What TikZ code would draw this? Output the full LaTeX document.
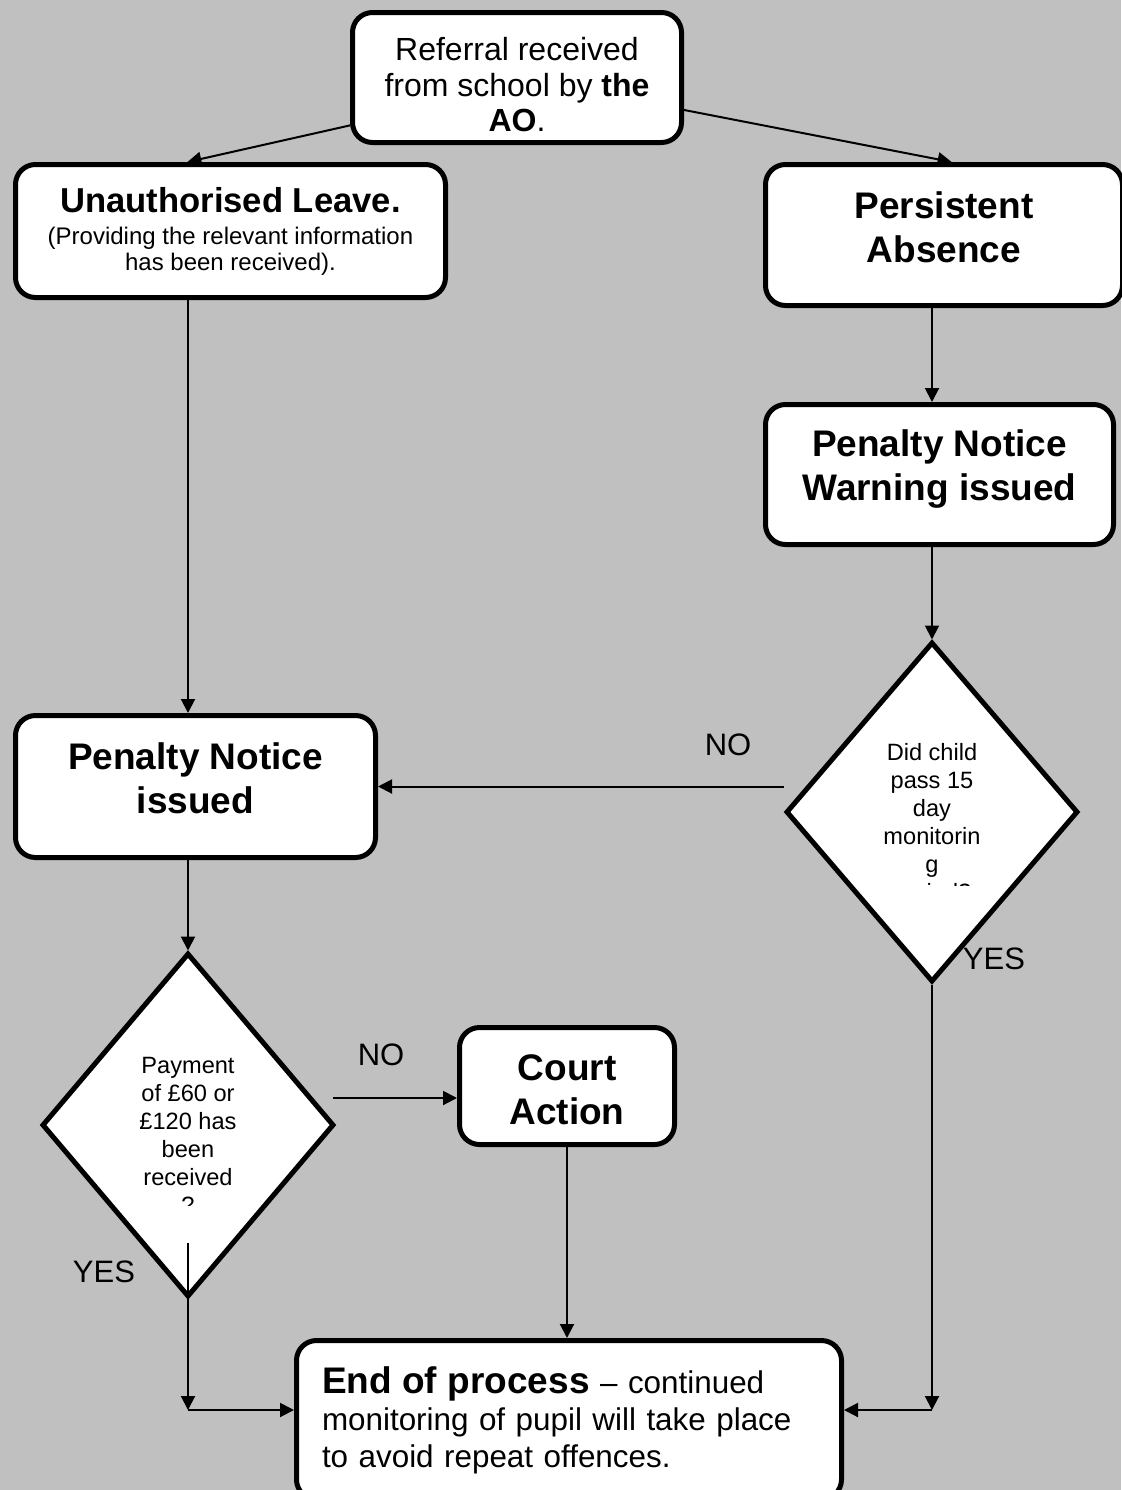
\documentclass[tikz,border=0pt]{standalone}
\usepackage{fontspec}
\setmainfont{Liberation Sans}
\usetikzlibrary{arrows.meta,shapes.geometric}
\definecolor{bg}{RGB}{192,192,192}

\begin{document}
\begin{tikzpicture}[x=0.5pt,y=-0.5pt,
	>={Triangle[length=7pt,width=7pt]},
	box/.style={draw, line width=2.5pt, rounded corners=10pt, fill=white, align=center, inner sep=0pt},
	head/.style={font=\fontsize{18.5}{22}\selectfont\bfseries},
	choice/.style={diamond, draw, line width=2.5pt, fill=white, inner sep=0pt, minimum width=146pt},
	ask/.style={align=center, font=\fontsize{11.8}{14}\selectfont},
	link/.style={->, line width=1pt},
	answer/.style={font=\fontsize{15.5}{18}\selectfont}]
	\useasboundingbox (0,0) rectangle (1121,1490);
	\fill[bg] (0,0) rectangle (1121,1490);

	\node[box, minimum width=164.5pt, minimum height=65pt, font=\fontsize{16}{17.75}\selectfont] (1) at (517,77.5) {\rule{0pt}{18.7pt}Referral received\\from school by \textbf{the}\\\textbf{AO}.};
	\node[box, minimum width=215pt, minimum height=66.5pt, font=\fontsize{12}{13}\selectfont] (2) at (230.5,231) {{\fontsize{17.3}{20}\selectfont\bfseries Unauthorised Leave.}\\[3pt](Providing the relevant information\\has been received).};
	\node[box, head, minimum width=178.5pt, minimum height=70.5pt] (3) at (944,235) {Persistent\\Absence\rule[-8pt]{0pt}{8pt}};
	\node[box, head, minimum width=174pt, minimum height=70pt] (4) at (939.5,474.5) {Penalty Notice\\Warning issued\rule[-9.4pt]{0pt}{9.4pt}};
	\node[choice, minimum height=170pt] (5) at (932,812) {};
	\node[box, head, minimum width=180pt, minimum height=71pt] (6) at (195.5,786.5) {Penalty Notice\\issued\rule[-8pt]{0pt}{8pt}};
	\node[choice, minimum height=172pt] (7) at (188,1125) {};
	\node[box, head, minimum width=107.5pt, minimum height=58.5pt] (8) at (567,1086) {\rule{0pt}{16.5pt}Court\\Action};
	\node[box, minimum width=272.5pt, minimum height=79.5pt, text width=247pt, align=left, font=\fontsize{15.7}{18.5}\selectfont] (9) at (569,1420) {{\fontsize{18.5}{18.5}\selectfont\bfseries End of process} – continued\\monitoring of pupil will take place\\to avoid repeat offences.};

	\begin{scope}
		\clip (820,700) rectangle (1044,885);
		\node[ask] (5t) at (932,824) {Did child\\pass 15\\day\\monitorin\\g\\period?};
	\end{scope}
	\begin{scope}
		\clip (80,1030) rectangle (296,1205);
		\node[ask] (7t) at (188,1135) {Payment\\of £60 or\\£120 has\\been\\received\\?};
	\end{scope}

	\coordinate (n7) at (333,1098);
	\coordinate (y7) at (188,1243);
	\coordinate (c7) at (188,1410);
	\coordinate (c5) at (932,1410);

	% box 1
	\draw[link] (1.196.5) -- (2.122);
	\draw[link] (1.349) -- (3.84);
	% box 2
	\draw[link] (2.south -| 7) -- (6.north -| 7);
	% box 3
	\draw[link] (3.south -| 5) -- (4.north -| 5);
	% box 4
	\draw[link] (4.south -| 5) -- (5.north);
	% diamond 5
	\draw[link] (5.west |- 6) -- (6.east);
	\draw[link] (5.south) -- (c5);
	\draw[link] (c5) -- (c5 -| 9.east);
	% box 6
	\draw[link] (6.south -| 7) -- (7.north);
	% diamond 7
	\draw[link] (n7) -- (n7 -| 8.west);
	\draw[link] (y7) -- (c7);
	\draw[link] (c7) -- (c7 -| 9.west);
	% box 8
	\draw[link] (8.south) -- (8.south |- 9.north);

	\node[answer] (no5) at (728,745) {NO};
	\node[answer] (yes5) at (994,959) {YES};
	\node[answer] (no7) at (381,1055) {NO};
	\node[answer] (yes7) at (104,1272) {YES};
\end{tikzpicture}
\end{document}
